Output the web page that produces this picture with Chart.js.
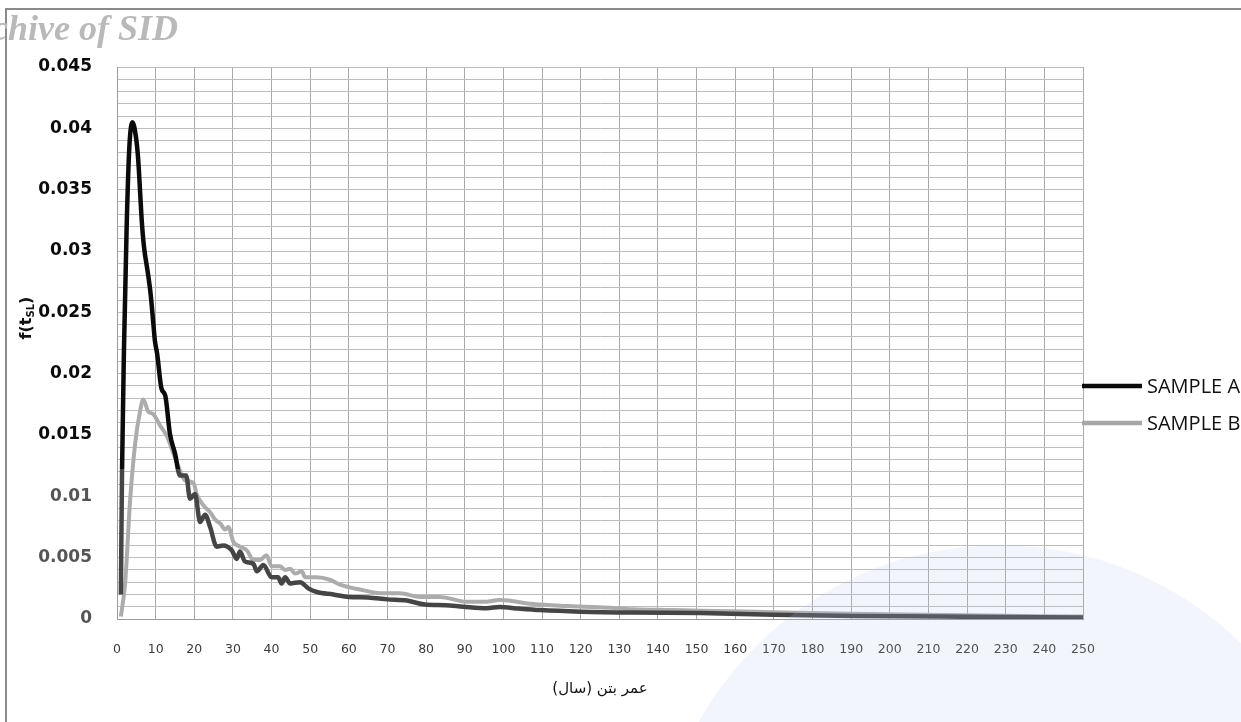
<!DOCTYPE html>
<html>
<head>
<meta charset="utf-8">
<script src="https://cdn.jsdelivr.net/npm/chart.js@4.4.0/dist/chart.umd.min.js"></script>
<style>
  html, body { margin: 0; padding: 0; background: #fff; }
  #wrap { width: 1241px; height: 722px; }
</style>
</head>
<body>
<div id="wrap"><canvas id="chart" width="1241" height="722"></canvas></div>
<script>
// service life (years) vs density
const ageA = [1, 1.3, 1.8, 2.5, 3.2, 4, 4.9, 5.5, 6, 6.4, 7, 7.9, 8.7, 9.4, 9.8, 10.4, 11.5, 12.5, 13.7, 15,
  16.3, 17.9, 18.9, 20.2, 21.5, 22.8, 24.1, 25.8, 27.5, 29.7, 31, 31.8, 33.1, 35.3, 36.2, 37.9, 40, 41.7, 42.6, 43.5,
  44.8, 47.4, 49.5, 51.7, 56, 60, 65, 70, 75, 79.7, 85, 89.6, 95.7, 99, 104, 109.5, 120, 133.5, 151, 170, 191, 220, 250]
const fA = [0.0020, 0.0120, 0.0219, 0.0320, 0.0385, 0.0405, 0.0393, 0.0374, 0.0347, 0.0325, 0.0303, 0.0284, 0.0265, 0.0241, 0.0227,
  0.0216, 0.0188, 0.0182, 0.0151, 0.0135, 0.0117, 0.0117, 0.0098, 0.0102, 0.0079, 0.0085, 0.0075, 0.0059, 0.0060, 0.0056,
  0.0049, 0.0055, 0.0047, 0.0045, 0.0039, 0.0044, 0.0034, 0.0034, 0.0029, 0.0034, 0.0029, 0.0030, 0.0025, 0.0022, 0.0020,
  0.0018, 0.00175, 0.0016, 0.0015, 0.00118, 0.00112, 0.0010, 0.00088, 0.00098, 0.00085, 0.00073, 0.0006, 0.00052, 0.00048,
  0.00035, 0.00025, 0.00018, 0.00012]

const ageB = [1, 2.1, 3.4, 4.7, 6, 6.8, 8.1, 9.4, 11.1, 12.9, 14.6, 16.3, 17.6, 19.8, 20.6, 22.3, 24.1, 25.4, 26.7, 28,
  28.8, 30.1, 31.8, 33.6, 35.3, 37, 38.7, 40, 42.2, 43.5, 44.8, 46.1, 47.8, 48.7, 51.7, 55.1, 57.7, 62.9, 68.9, 73.2,
  78.4, 83.6, 90.5, 94.8, 99.1, 107.7, 116.4, 125, 133.6, 142.3, 151, 170, 190, 220, 250]
const fB = [0.0002, 0.0029, 0.0097, 0.0143, 0.0170, 0.0179, 0.0169, 0.0167, 0.0158, 0.0149, 0.0135, 0.0121, 0.0113, 0.0111, 0.0102,
  0.0093, 0.0087, 0.0081, 0.0078, 0.0073, 0.0075, 0.0063, 0.0059, 0.0056, 0.0048, 0.0048, 0.0052, 0.0043, 0.0043, 0.0040,
  0.0041, 0.0037, 0.0039, 0.0034, 0.0034, 0.0032, 0.0028, 0.0024, 0.0021, 0.0021, 0.0018, 0.0018, 0.0014, 0.0014, 0.00155,
  0.00122, 0.00106, 0.00095, 0.00079, 0.00073, 0.00068, 0.00055, 0.00042, 0.0003, 0.0002]

const seriesNames = ['SAMPLE A', 'SAMPLE B']
const yLabelStep = 0.005
// right-to-left embedding so the parentheses land where the original has them
const xTitle = '\u202Bعمر بتن (سال)\u202C'
const watermark = 'Archive of SID'

const toPoints = (xs, ys) => xs.map((x, i) => ({ x: x, y: ys[i] }))

// lower part of the scan is washed out, so the dark line fades below ~0.012
const fadeCut = 0.0122
function splitColor (top, bottom) {
  return function (ctx) {
    const chart = ctx.chart
    const area = chart.chartArea
    if (!area) return top
    const cut = chart.scales.y.getPixelForValue(fadeCut)
    const s = Math.min(1, Math.max(0, (cut - area.top) / (area.bottom - area.top)))
    const g = chart.ctx.createLinearGradient(0, area.top, 0, area.bottom)
    g.addColorStop(0, top)
    g.addColorStop(s, top)
    g.addColorStop(s, bottom)
    g.addColorStop(1, bottom)
    return g
  }
}

const decor = {
  id: 'decor',
  beforeDraw (chart) {
    const c = chart.ctx
    c.save()
    c.fillStyle = '#fff'
    c.fillRect(0, 0, chart.width, chart.height)
    c.restore()
  },
  afterDraw (chart) {
    const c = chart.ctx
    c.save()

    // faint round logo in the lower right
    c.fillStyle = 'rgba(180, 200, 235, 0.17)'
    c.beginPath()
    c.arc(1000, 890, 345, 0, Math.PI * 2)
    c.fill()

    // page frame
    c.strokeStyle = '#8a8a8a'
    c.lineWidth = 2
    c.beginPath()
    c.moveTo(6, 760)
    c.lineTo(6, 9)
    c.lineTo(1260, 9)
    c.stroke()

    // watermark title
    c.font = 'bold italic 36px "Liberation Serif"'
    c.fillStyle = '#b9b9b9'
    c.textAlign = 'right'
    c.textBaseline = 'alphabetic'
    c.fillText(watermark, 178, 40)

    // y axis title f(t_SL)
    c.translate(27, 318)
    c.rotate(-Math.PI / 2)
    c.fillStyle = '#111'
    c.textBaseline = 'middle'
    c.textAlign = 'left'
    const big = 'bold 16px "DejaVu Sans"'
    const small = 'bold 10px "DejaVu Sans"'
    c.font = big
    const w1 = c.measureText('f(t').width
    const w3 = c.measureText(')').width
    c.font = small
    const w2 = c.measureText('SL').width
    let x = -(w1 + w2 + w3) / 2
    c.font = big
    c.fillText('f(t', x, 0)
    x += w1
    c.font = small
    c.fillText('SL', x, 4)
    x += w2
    c.font = big
    c.fillText(')', x, 0)
    c.setTransform(1, 0, 0, 1, 0, 0)

    // legend
    const area = chart.chartArea
    const rows = [386, 423]
    chart.data.datasets.forEach((ds, i) => {
      c.strokeStyle = ds.legendColor
      c.lineWidth = 4.5
      c.beginPath()
      c.moveTo(area.right - 1, rows[i])
      c.lineTo(area.right + 59, rows[i])
      c.stroke()
      c.fillStyle = '#111'
      c.font = '20px "Open Sans"'
      c.textAlign = 'left'
      c.textBaseline = 'middle'
      c.fillText(ds.label, area.right + 64, rows[i] + 1)
    })
    c.restore()
  }
}

new Chart(document.getElementById('chart').getContext('2d'), {
  type: 'line',
  data: {
    datasets: [
      {
        label: seriesNames[0],
        data: toPoints(ageA, fA),
        borderColor: splitColor('#0b0b0b', '#454545'),
        legendColor: '#0b0b0b',
        borderWidth: 4.5,
        pointRadius: 0,
        cubicInterpolationMode: 'monotone',
        fill: false
      },
      {
        label: seriesNames[1],
        data: toPoints(ageB, fB),
        borderColor: '#acacac',
        legendColor: '#a6a6a6',
        borderWidth: 4,
        pointRadius: 0,
        cubicInterpolationMode: 'monotone',
        fill: false
      }
    ]
  },
  options: {
    responsive: false,
    devicePixelRatio: 1,
    animation: false,
    layout: { padding: { top: 67, right: 158, left: 0, bottom: 0 } },
    plugins: {
      legend: { display: false },
      tooltip: { enabled: false }
    },
    scales: {
      x: {
        type: 'linear',
        min: 0,
        max: 250,
        afterFit (scale) { scale.height = 103 },
        grid: { color: '#a9a9a9', lineWidth: 1, drawTicks: false },
        border: { color: '#9a9a9a' },
        ticks: {
          stepSize: 10,
          maxTicksLimit: 100,
          autoSkip: false,
          maxRotation: 0,
          padding: 23,
          color: '#3a3a3a',
          font: { family: '"DejaVu Sans"', size: 12.5 }
        },
        title: {
          display: true,
          text: xTitle,
          color: '#111',
          font: { family: '"DejaVu Sans"', size: 15 },
          padding: { top: 0, bottom: 24 }
        }
      },
      y: {
        min: 0,
        max: 0.045,
        afterFit (scale) { scale.width = 117 },
        grid: { color: '#bdbdbd', lineWidth: 1, drawTicks: false },
        border: { color: '#9a9a9a' },
        ticks: {
          stepSize: 0.001,
          maxTicksLimit: 100,
          autoSkip: false,
          padding: 25,
          color: (ctx) => (ctx.tick && ctx.tick.value > fadeCut ? '#0b0b0b' : '#555'),
          font: { family: '"DejaVu Sans"', size: 17, weight: 'bold' },
          callback (v) {
            const k = Math.round(v / 0.001)
            const step = Math.round(yLabelStep / 0.001)
            return k % step === 0 ? String(+(k * 0.001).toFixed(3)) : ''
          }
        }
      }
    }
  },
  plugins: [decor]
})
</script>
</body>
</html>
